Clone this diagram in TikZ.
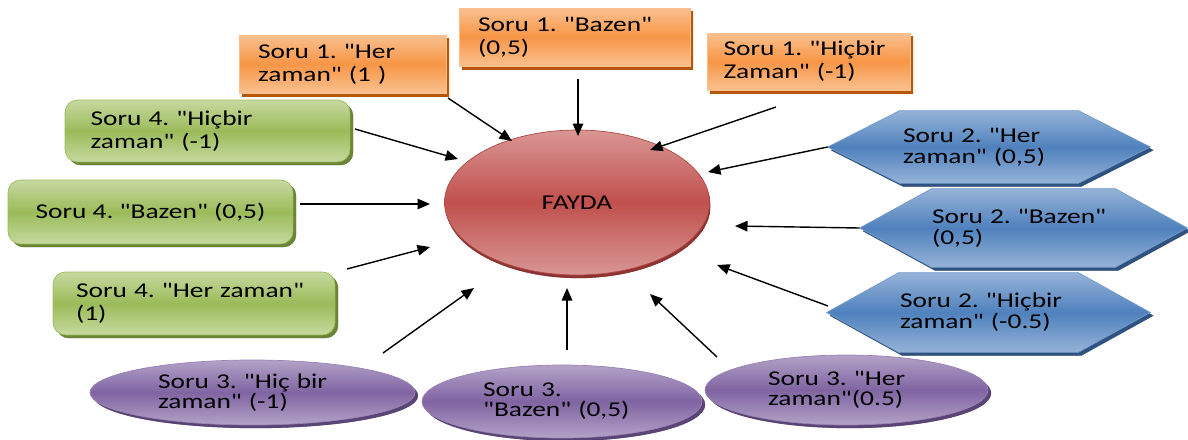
\documentclass[tikz,border=0pt]{standalone}
\usepackage{fontspec}
\usetikzlibrary{shapes.geometric,shadows,arrows.meta}
\newfontfamily\boxfont{Carlito}[FakeStretch=1.3]
\frenchspacing
\definecolor{orangeMid}{HTML}{F79646}
\definecolor{orangeLight}{HTML}{FAC08F}
\definecolor{orangeDark}{HTML}{B65708}
\definecolor{greenMid}{HTML}{9BBB59}
\definecolor{greenLight}{HTML}{C6D9A0}
\definecolor{greenDark}{HTML}{6B8535}
\definecolor{blueMid}{HTML}{4F81BD}
\definecolor{blueLight}{HTML}{95B3D7}
\definecolor{blueDark}{HTML}{2F5280}
\definecolor{purpleMid}{HTML}{8064A2}
\definecolor{purpleLight}{HTML}{B3A2C7}
\definecolor{purpleDark}{HTML}{5A4375}
\definecolor{redMid}{HTML}{C0504D}
\definecolor{redLight}{HTML}{D99694}
\definecolor{redDark}{HTML}{8E3330}
\pgfdeclarelayer{background}
\pgfsetlayers{background,main}
\begin{document}
\begin{tikzpicture}[x=0.02cm,y=-0.02cm,
    shad/.style={drop shadow={shadow xshift=1.8pt,shadow yshift=-1.8pt,opacity=1,draw=none,top color=#1,bottom color=#1,middle color=#1}},
    base/.style={inner sep=0pt,text=black,align=left,font=\boxfont\fontsize{12}{13}\selectfont},
    obox/.style={base,rectangle,draw=orangeMid!60,top color=orangeLight,bottom color=orangeLight,middle color=orangeMid,shad=orangeDark},
    gbox/.style={base,rectangle,rounded corners=0.25cm,draw=greenMid,top color=greenLight,bottom color=greenLight,middle color=greenMid,shad=greenDark},
    btext/.style={base,rectangle,font=\boxfont\fontsize{12}{12}\selectfont},
    bfill/.style={draw=blueMid!80,top color=blueLight,bottom color=blueLight,middle color=blueMid,shad=blueDark},
    pell/.style={base,ellipse,draw=purpleMid!80,top color=purpleLight,bottom color=purpleLight,middle color=purpleMid,
        font=\boxfont\fontsize{12}{11.5}\selectfont,shad=purpleDark},
    arr/.style={line width=0.8pt,-{Triangle[length=2.5mm,width=2.1mm]}}]
    \useasboundingbox (0,0) rectangle (1188,440);
    \node[base,ellipse,draw=redMid!90!black,top color=redLight,bottom color=redLight,middle color=redMid,
        minimum width=5.3cm,minimum height=2.9cm,drop shadow={shadow xshift=0.6pt,shadow yshift=-1.8pt,opacity=1,draw=none,top color=redDark,bottom color=redDark,middle color=redDark}]
        (fayda) at (577,202.5) {FAYDA};
    \node[obox,minimum width=4.14cm,minimum height=1.16cm,text width=3.38cm] (o1) at (342.5,64) {Soru 1. "Her\\zaman" (1 )};
    \node[obox,minimum width=4.62cm,minimum height=1.16cm,text width=3.86cm] (o2) at (574.5,37) {Soru 1. "Bazen"\\(0,5)};
    \node[obox,minimum width=4.06cm,minimum height=1.14cm,text width=3.4cm] (o3) at (808.5,61.5) {Soru 1. "Hiçbir\\Zaman" (-1)};
    \node[gbox,minimum width=5.7cm,minimum height=1.24cm,text width=4.68cm] (g1) at (207.5,131) {Soru 4. "Hiçbir\\zaman" (-1)};
    \node[gbox,minimum width=5.7cm,minimum height=1.28cm] (g2) at (150.5,212) {Soru 4. "Bazen" (0,5)};
    \node[gbox,minimum width=5.64cm,minimum height=1.26cm,text width=4.72cm] (g3) at (194,303.5) {Soru 4. "Her zaman"\\(1)};
    \node[btext,minimum width=6.44cm,minimum height=1.44cm,text width=3.44cm] (b1) at (989,147) {Soru 2. "Her\\zaman" (0,5)};
    \node[btext,minimum width=6.54cm,minimum height=1.56cm,text width=3.66cm] (b2) at (1023.5,228) {Soru 2. "Bazen"\\(0,5)};
    \node[btext,minimum width=6.46cm,minimum height=1.58cm,text width=3.54cm] (b3) at (988.5,312.5) {Soru 2. "Hiçbir\\zaman" (-0.5)};
    \begin{pgfonlayer}{background}
        \path[bfill] (b1.west) -- ([xshift=1.44cm]b1.north west) -- ([xshift=-1.44cm]b1.north east) -- (b1.east)
            -- ([xshift=-1.44cm]b1.south east) -- ([xshift=1.44cm]b1.south west) -- cycle;
        \path[bfill] (b2.west) -- ([xshift=1.44cm]b2.north west) -- ([xshift=-1.44cm]b2.north east) -- (b2.east)
            -- ([xshift=-1.44cm]b2.south east) -- ([xshift=1.44cm]b2.south west) -- cycle;
        \path[bfill] (b3.west) -- ([xshift=1.44cm]b3.north west) -- ([xshift=-1.44cm]b3.north east) -- (b3.east)
            -- ([xshift=-1.44cm]b3.south east) -- ([xshift=1.44cm]b3.south west) -- cycle;
    \end{pgfonlayer}
    \node[pell,minimum width=6.5cm,minimum height=1.3cm,text width=3.78cm] (p1) at (252.5,392.5) {Soru 3. "Hiç bir\\zaman" (-1)};
    \node[pell,minimum width=5.6cm,minimum height=1.46cm,text width=3.16cm] (p2) at (562,401.5) {Soru 3.\\"Bazen" (0,5)};
    \node[pell,minimum width=5.66cm,minimum height=1.4cm,text width=3.14cm] (p3) at (846.5,390) {Soru 3. "Her\\zaman"(0.5)};
    \coordinate (o1t) at (448,98);
    \coordinate (o1h) at (512,141);
    \coordinate (o2t) at (578,79);
    \coordinate (o2h) at (578,136);
    \coordinate (o3t) at (776,107);
    \coordinate (o3h) at (650,150);
    \coordinate (g1t) at (355,129);
    \coordinate (g1h) at (458,159);
    \coordinate (g2t) at (300,204);
    \coordinate (g2h) at (430,204);
    \coordinate (g3t) at (347,269);
    \coordinate (g3h) at (430,247);
    \coordinate (b1h) at (708,172);
    \coordinate (b2h) at (735,226);
    \coordinate (b3t) at (828,306);
    \coordinate (b3h) at (717,265);
    \coordinate (p1t) at (383,353);
    \coordinate (p1h) at (474,288);
    \coordinate (p2t) at (567,350);
    \coordinate (p2h) at (567,288);
    \coordinate (p3t) at (717,357);
    \coordinate (p3h) at (650,294);
    \draw[arr] (o1t) -- (o1h);
    \draw[arr] (o2t) -- (o2h);
    \draw[arr] (o3t) -- (o3h);
    \draw[arr] (g1t) -- (g1h);
    \draw[arr] (g2t) -- (g2h);
    \draw[arr] (g3t) -- (g3h);
    \draw[arr] (b1.west) -- (b1h);
    \draw[arr] (b2.west) -- (b2h);
    \draw[arr] (b3t) -- (b3h);
    \draw[arr] (p1t) -- (p1h);
    \draw[arr] (p2t) -- (p2h);
    \draw[arr] (p3t) -- (p3h);
\end{tikzpicture}
\end{document}
